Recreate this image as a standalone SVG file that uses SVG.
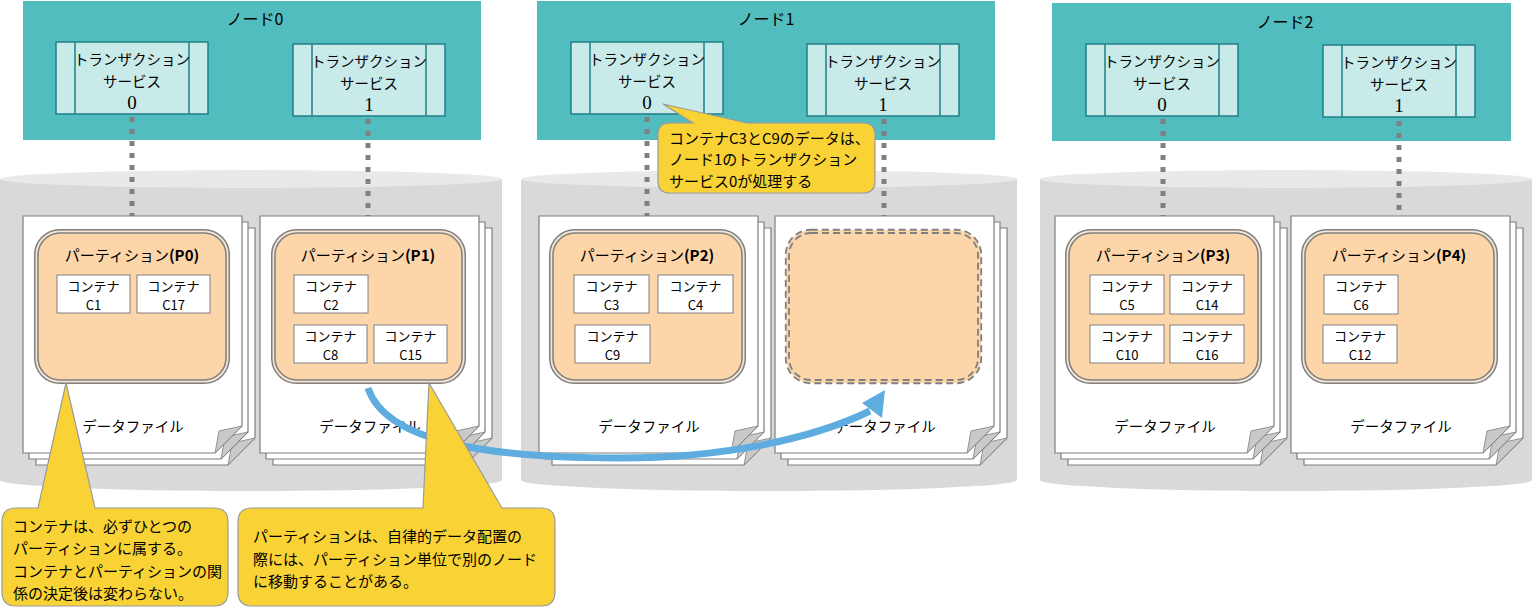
<svg xmlns="http://www.w3.org/2000/svg" xmlns:xlink="http://www.w3.org/1999/xlink" width="1533" height="614" viewBox="0 0 1533 614">
<style>
text{font-family:"Noto Sans CJK JP","Noto Sans",sans-serif;fill:#000;dominant-baseline:central}
.node{fill:#52bdbe}
.nlabel{font-size:16px;text-anchor:middle}
.ts{fill:#c8eae8;stroke:#1f7f86;stroke-width:1.5}
.tsl{stroke:#1f7f86;stroke-width:1.5}
.tst{font-size:14.5px;text-anchor:middle}
.tsn{font-family:"Liberation Serif",serif;font-size:19px;text-anchor:middle}
.cylb{fill:#d9d9d9}
.cylt{fill:#e9e9e9}
.dot{stroke:#808080;stroke-width:5;stroke-dasharray:5 7;fill:none}
.page{fill:#fff;stroke:#7f7f7f;stroke-width:1.2}
.flap{fill:#c9c9c9;stroke:#7f7f7f;stroke-width:0.8}
.df{font-size:14.5px;text-anchor:middle}
.pout{fill:#f5e4d3;stroke:#7f7f7f;stroke-width:1.5}
.pin{fill:#fcd5a9;stroke:#7f7f7f;stroke-width:1.5}
.ptitle{font-size:15px;text-anchor:middle}
.pdash{fill:none;stroke:#808080;stroke-width:1.8;stroke-dasharray:7 4}
.cont{fill:#fff;stroke:#808080;stroke-width:1}
.ct{font-size:13px;text-anchor:middle}
.call{fill:#f9d336;stroke:#9a9a9a;stroke-width:1.2}
.cat{font-size:15px}
.arrow{fill:none;stroke:#5fade0;stroke-width:7}
</style>
<defs>
<g id="sheet">
<path class="page" d="M0,0 H219 V210 L192,237 H0 Z"/>
<path class="flap" d="M219,210 L196,215 L192,237 Z"/>
</g>
<g id="doc">
<use xlink:href="#sheet" x="13" y="12"/>
<use xlink:href="#sheet" x="6" y="6"/>
<use xlink:href="#sheet" x="0" y="0"/>
<text class="df" x="110" y="209">データファイル</text>
</g>
<g id="tsbox">
<rect class="ts" x="0" y="0" width="152" height="72"/>
<line class="tsl" x1="19" y1="0" x2="19" y2="72"/>
<line class="tsl" x1="133" y1="0" x2="133" y2="72"/>
<text class="tst" x="76" y="16">トランザクション</text>
<text class="tst" x="76" y="38">サービス</text>
</g>
</defs>

<g id="storage">
<path class="cylb" d="M0,179 V480 A251,11 0 0 0 502,480 V179 Z"/>
<ellipse class="cylt" cx="251" cy="179" rx="251" ry="9"/>
<path class="cylb" d="M521,179 V480 A248,11 0 0 0 1017,480 V179 Z"/>
<ellipse class="cylt" cx="769" cy="179" rx="248" ry="9"/>
<path class="cylb" d="M1040,179 V480 A246,11 0 0 0 1532,480 V179 Z"/>
<ellipse class="cylt" cx="1286" cy="179" rx="246" ry="9"/>
</g>

<g id="node0">
<rect class="node" x="23" y="1" width="458" height="139"/>
<text class="nlabel" x="255" y="18">ノード0</text>
<g id="node0-ts0"><use xlink:href="#tsbox" x="56" y="42"/><text class="tsn" x="132" y="102">0</text></g>
<g id="node0-ts1"><use xlink:href="#tsbox" x="293" y="44"/><text class="tsn" x="369" y="104">1</text></g>
</g>
<g id="node1">
<rect class="node" x="537" y="1" width="458" height="139"/>
<text class="nlabel" x="766" y="18">ノード1</text>
<g id="node1-ts0"><use xlink:href="#tsbox" x="571" y="42"/><text class="tsn" x="647" y="102">0</text></g>
<g id="node1-ts1"><use xlink:href="#tsbox" x="807" y="44"/><text class="tsn" x="883" y="104">1</text></g>
</g>
<g id="node2">
<rect class="node" x="1052" y="3" width="459" height="138"/>
<text class="nlabel" x="1285" y="21">ノード2</text>
<g id="node2-ts0"><use xlink:href="#tsbox" x="1086" y="44"/><text class="tsn" x="1162" y="104">0</text></g>
<g id="node2-ts1"><use xlink:href="#tsbox" x="1323" y="45"/><text class="tsn" x="1399" y="105">1</text></g>
</g>

<g id="connectors">
<line class="dot" x1="132" y1="117" x2="132" y2="216"/>
<line class="dot" x1="368" y1="119" x2="368" y2="216"/>
<line class="dot" x1="647" y1="117" x2="647" y2="216"/>
<line class="dot" x1="884" y1="119" x2="884" y2="216"/>
<line class="dot" x1="1163" y1="119" x2="1163" y2="216"/>
<line class="dot" x1="1399" y1="121" x2="1399" y2="216"/>
</g>

<g id="files">
<use xlink:href="#doc" x="23" y="216"/>
<use xlink:href="#doc" x="260" y="216"/>
<use xlink:href="#doc" x="539" y="216"/>
<use xlink:href="#doc" x="775" y="216"/>
<use xlink:href="#doc" x="1055" y="216"/>
<use xlink:href="#doc" x="1291" y="216"/>
</g>

<g id="partition-p0">
<rect class="pout" x="34.75" y="229.75" width="194.5" height="153.5" rx="25"/>
<rect class="pin" x="38" y="233" width="188" height="147" rx="22"/>
<text class="ptitle" x="132" y="254">パーティション<tspan font-weight="bold">(P0)</tspan></text>
<g id="c1"><rect class="cont" x="57" y="275" width="73" height="38"/><text class="ct" x="93.5" y="285">コンテナ</text><text class="ct" x="93.5" y="304">C1</text></g>
<g id="c17"><rect class="cont" x="137" y="275" width="73" height="38"/><text class="ct" x="173.5" y="285">コンテナ</text><text class="ct" x="173.5" y="304">C17</text></g>
</g>
<g id="partition-p1">
<rect class="pout" x="271.75" y="229.75" width="193.5" height="153.5" rx="25"/>
<rect class="pin" x="275" y="233" width="187" height="147" rx="22"/>
<text class="ptitle" x="368" y="254">パーティション<tspan font-weight="bold">(P1)</tspan></text>
<g id="c2"><rect class="cont" x="294" y="275" width="74" height="38"/><text class="ct" x="331" y="285">コンテナ</text><text class="ct" x="331" y="304">C2</text></g>
<g id="c8"><rect class="cont" x="294" y="325" width="73" height="38"/><text class="ct" x="330.5" y="335">コンテナ</text><text class="ct" x="330.5" y="354">C8</text></g>
<g id="c15"><rect class="cont" x="374" y="325" width="73" height="38"/><text class="ct" x="410.5" y="335">コンテナ</text><text class="ct" x="410.5" y="354">C15</text></g>
</g>
<g id="partition-p2">
<rect class="pout" x="549.75" y="229.75" width="195.5" height="153.5" rx="25"/>
<rect class="pin" x="553" y="233" width="189" height="147" rx="22"/>
<text class="ptitle" x="647" y="254">パーティション<tspan font-weight="bold">(P2)</tspan></text>
<g id="c3"><rect class="cont" x="574" y="275" width="75" height="38"/><text class="ct" x="611.5" y="285">コンテナ</text><text class="ct" x="611.5" y="304">C3</text></g>
<g id="c4"><rect class="cont" x="658" y="275" width="75" height="38"/><text class="ct" x="695.5" y="285">コンテナ</text><text class="ct" x="695.5" y="304">C4</text></g>
<g id="c9"><rect class="cont" x="575" y="325" width="75" height="38"/><text class="ct" x="612.5" y="335">コンテナ</text><text class="ct" x="612.5" y="354">C9</text></g>
</g>
<g id="partition-moved">
<rect x="786" y="230" width="195" height="153" rx="25" fill="#fcd5a9"/>
<rect class="pdash" x="785.75" y="229.75" width="195.5" height="153.5" rx="25"/>
<rect class="pdash" x="789" y="233" width="189" height="147" rx="22"/>
</g>
<g id="partition-p3">
<rect class="pout" x="1065.75" y="229.75" width="195.5" height="153.5" rx="25"/>
<rect class="pin" x="1069" y="233" width="189" height="147" rx="22"/>
<text class="ptitle" x="1163" y="254">パーティション<tspan font-weight="bold">(P3)</tspan></text>
<g id="c5"><rect class="cont" x="1090" y="275" width="74" height="39"/><text class="ct" x="1127" y="285">コンテナ</text><text class="ct" x="1127" y="304">C5</text></g>
<g id="c14"><rect class="cont" x="1170" y="275" width="74" height="39"/><text class="ct" x="1207" y="285">コンテナ</text><text class="ct" x="1207" y="304">C14</text></g>
<g id="c10"><rect class="cont" x="1090" y="325" width="74" height="38"/><text class="ct" x="1127" y="335">コンテナ</text><text class="ct" x="1127" y="354">C10</text></g>
<g id="c16"><rect class="cont" x="1170" y="325" width="74" height="38"/><text class="ct" x="1207" y="335">コンテナ</text><text class="ct" x="1207" y="354">C16</text></g>
</g>
<g id="partition-p4">
<rect class="pout" x="1301.75" y="229.75" width="195.5" height="153.5" rx="25"/>
<rect class="pin" x="1305" y="233" width="189" height="147" rx="22"/>
<text class="ptitle" x="1399" y="254">パーティション<tspan font-weight="bold">(P4)</tspan></text>
<g id="c6"><rect class="cont" x="1324" y="275" width="74" height="39"/><text class="ct" x="1361" y="285">コンテナ</text><text class="ct" x="1361" y="304">C6</text></g>
<g id="c12"><rect class="cont" x="1323" y="325" width="74" height="38"/><text class="ct" x="1360" y="335">コンテナ</text><text class="ct" x="1360" y="354">C12</text></g>
</g>

<g id="move-arrow">
<path class="arrow" d="M368,388 C385,440 480,458 620,458 C720,458 810,440 870,411"/>
<path d="M885,390 L862,403 L882,418 Z" fill="#5fade0"/>
</g>

<g id="callout-node1">
<path class="call" d="M670,123 H693 L663,104 L747,123 H863 Q875,123 875,135 V181 Q875,193 863,193 H670 Q658,193 658,181 V135 Q658,123 670,123 Z"/>
<text class="cat" x="669" y="137">コンテナC3とC9のデータは、</text>
<text class="cat" x="669" y="158">ノード1のトランザクション</text>
<text class="cat" x="669" y="180">サービス0が処理する</text>
</g>
<g id="callout-container">
<path class="call" d="M16,508 H38 L66,383 L95,508 H214 Q228,508 228,522 V592 Q228,606 214,606 H16 Q2,606 2,592 V522 Q2,508 16,508 Z"/>
<text class="cat" x="13" y="525" font-size="14.5">コンテナは、必ずひとつの</text>
<text class="cat" x="13" y="547" font-size="14.5">パーティションに属する。</text>
<text class="cat" x="13" y="570" font-size="14.5">コンテナとパーティションの関</text>
<text class="cat" x="13" y="592" font-size="14.5">係の決定後は変わらない。</text>
</g>
<g id="callout-partition">
<path class="call" d="M252,508 H423 L429,383 L502,508 H541 Q555,508 555,522 V592 Q555,606 541,606 H252 Q238,606 238,592 V522 Q238,508 252,508 Z"/>
<text class="cat" x="253" y="535">パーティションは、自律的データ配置の</text>
<text class="cat" x="253" y="558">際には、パーティション単位で別のノード</text>
<text class="cat" x="253" y="580">に移動することがある。</text>
</g>
</svg>
